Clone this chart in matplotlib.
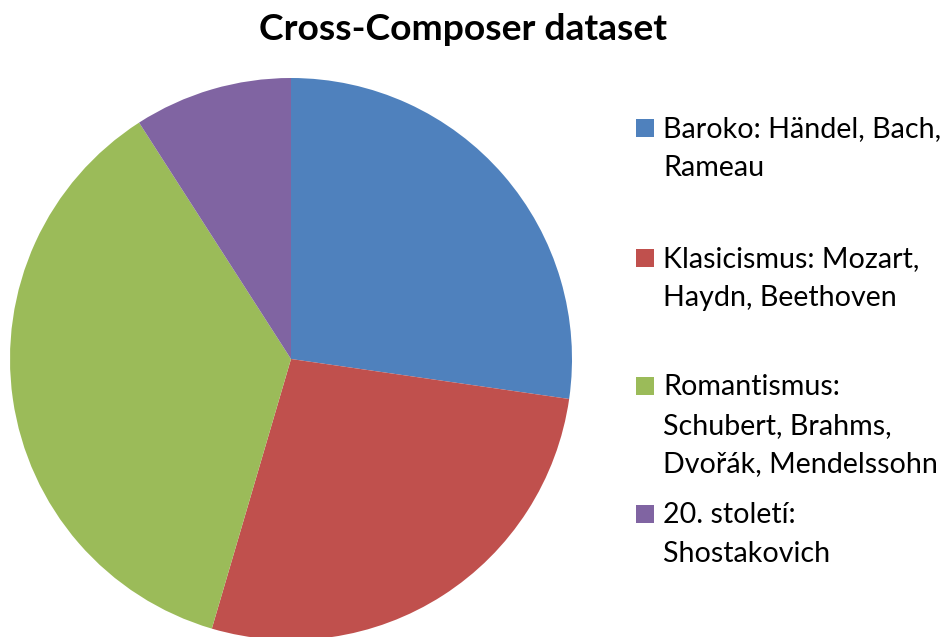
import matplotlib.pyplot as plt
from matplotlib.patches import Rectangle

plt.rcParams['font.family'] = ['Lato', 'DejaVu Sans']

title = "Cross-Composer dataset"
labels = ["Baroko: Händel, Bach,\nRameau",
          "Klasicismus: Mozart,\nHaydn, Beethoven",
          "Romantismus:\nSchubert, Brahms,\nDvořák, Mendelssohn",
          "20. století:\nShostakovich"]
values = [3, 3, 4, 1]
colors = ["#4F81BD", "#C0504D", "#9BBB59", "#8064A2"]

W, H = 946, 637
fig = plt.figure(figsize=(W / 100, H / 100), dpi=100)

# pie: centre (291, 359) px from top-left, radius 281 px
cx, cy, r = 291, 359, 281
ax = fig.add_axes([(cx - r) / W, (H - cy - r) / H, 2 * r / W, 2 * r / H])
wedges, _ = ax.pie(values, colors=colors, startangle=90, counterclock=False,
                   radius=1, wedgeprops=dict(linewidth=0))
for w in wedges:
    w.set_clip_on(False)
ax.set_xlim(-1, 1)
ax.set_ylim(-1, 1)
ax.set_aspect('equal')
ax.axis('off')

fig.text(463 / W, 1 - 40 / H, title, ha='center', va='baseline',
         fontsize=26.8, fontweight='bold')

# legend drawn by hand to keep Excel-like spacing
first_baselines = [137, 267, 395, 523]
step = 38.6
for lab, col, b0 in zip(labels, colors, first_baselines):
    sq = 18
    fig.patches.append(Rectangle((636 / W, 1 - (b0 - 9 + sq / 2) / H),
                                 sq / W, sq / H, transform=fig.transFigure,
                                 facecolor=col, edgecolor='none'))
    for i, line in enumerate(lab.split("\n")):
        fig.text(663 / W, 1 - (b0 + i * step) / H, line, ha='left',
                 va='baseline', fontsize=20.6)

fig.savefig("out.png", dpi=100)
